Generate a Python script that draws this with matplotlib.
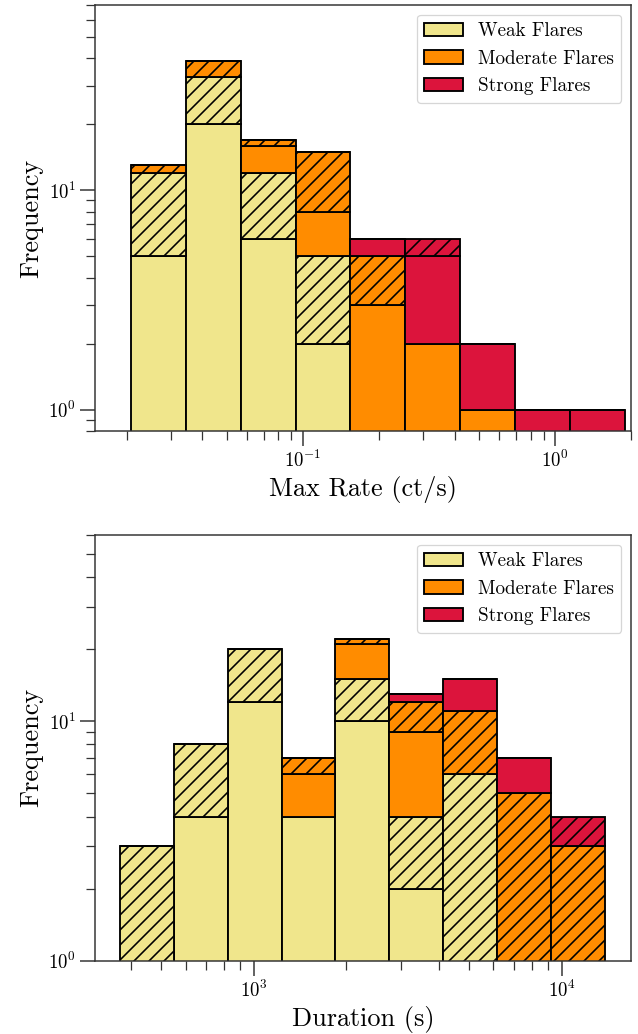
import numpy as np
import matplotlib
matplotlib.use("Agg")
import matplotlib.pyplot as plt
from matplotlib.ticker import NullFormatter

plt.rcParams.update({
    "font.family": ["cmr10", "DejaVu Serif"],
    "mathtext.fontset": "cm",
    "axes.formatter.use_mathtext": True,
    "axes.unicode_minus": False,
    "hatch.linewidth": 1.3,
    "hatch.color": "black",
})

# histogram ranges (9 log bins each)
rate_lo, rate_hi = 0.0208, 1.89
dur_lo, dur_hi = 367, 13840
n_bins = 9

# Max rate panel: counts per bin for each segment of the stack
rate_weak = [5, 20, 6, 2, 0, 0, 0, 0, 0]
rate_weak_h = [7, 13, 6, 3, 0, 0, 0, 0, 0]
rate_mod = [0, 0, 4, 3, 3, 2, 1, 0, 0]
rate_mod_h = [1, 6, 1, 7, 2, 0, 0, 0, 0]
rate_strong = [0, 0, 0, 0, 1, 3, 1, 1, 1]
rate_strong_h = [0, 0, 0, 0, 0, 1, 0, 0, 0]

# Duration panel
dur_weak = [0, 4, 12, 4, 10, 2, 0, 0, 0]
dur_weak_h = [3, 4, 8, 0, 5, 2, 6, 0, 0]
dur_mod = [0, 0, 0, 2, 6, 5, 0, 0, 0]
dur_mod_h = [0, 0, 0, 1, 1, 3, 5, 5, 3]
dur_strong = [0, 0, 0, 0, 0, 1, 4, 2, 0]
dur_strong_h = [0, 0, 0, 0, 0, 0, 0, 0, 1]

labels = ["Weak Flares", "Moderate Flares", "Strong Flares"]
colors = ["khaki", "darkorange", "crimson"]


def stacked_hist(ax, edges, segs):
    bottom = np.zeros(len(edges) - 1)
    widths = np.diff(edges)
    for i, vals in enumerate(segs):
        k = i // 2
        hatched = i % 2 == 1
        ax.bar(edges[:-1], vals, width=widths, bottom=bottom, align="edge",
               color=colors[k], edgecolor="black", linewidth=1.5,
               hatch="//" if hatched else None,
               label="_nolegend_" if hatched else labels[k])
        bottom = bottom + np.array(vals)


def style_axis(ax, xlabel):
    ax.set_xscale("log")
    ax.set_yscale("log")
    ax.set_xlabel(xlabel, fontsize=21)
    ax.set_ylabel("Frequency", fontsize=21)
    ax.tick_params(which="major", direction="out", length=12, width=1.2,
                   labelsize=15, color="0.2")
    ax.tick_params(which="minor", direction="out", length=7.5, width=1.0,
                   color="0.2")
    ax.xaxis.set_minor_formatter(NullFormatter())
    ax.yaxis.set_minor_formatter(NullFormatter())
    for sp in ax.spines.values():
        sp.set_linewidth(1.2)
        sp.set_color("0.2")
    ax.legend(loc="upper right", fontsize=15.3)


fig = plt.figure(figsize=(638 / 90, 1034 / 90), dpi=90)
ax1 = fig.add_axes([0.149, 0.5832, 0.840, 0.412])
ax2 = fig.add_axes([0.149, 0.0709, 0.840, 0.4117])

rate_edges = np.logspace(np.log10(rate_lo), np.log10(rate_hi), n_bins + 1)
stacked_hist(ax1, rate_edges, [rate_weak, rate_weak_h, rate_mod, rate_mod_h,
                               rate_strong, rate_strong_h])
style_axis(ax1, "Max Rate (ct/s)")
ax1.set_xlim(0.015, 2)
ax1.set_ylim(0.8, 70)

dur_edges = np.logspace(np.log10(dur_lo), np.log10(dur_hi), n_bins + 1)
stacked_hist(ax2, dur_edges, [dur_weak, dur_weak_h, dur_mod, dur_mod_h,
                              dur_strong, dur_strong_h])
style_axis(ax2, "Duration (s)")
ax2.set_xlim(305, 16800)
ax2.set_ylim(1, 60)

fig.savefig("out.png", dpi=90)
